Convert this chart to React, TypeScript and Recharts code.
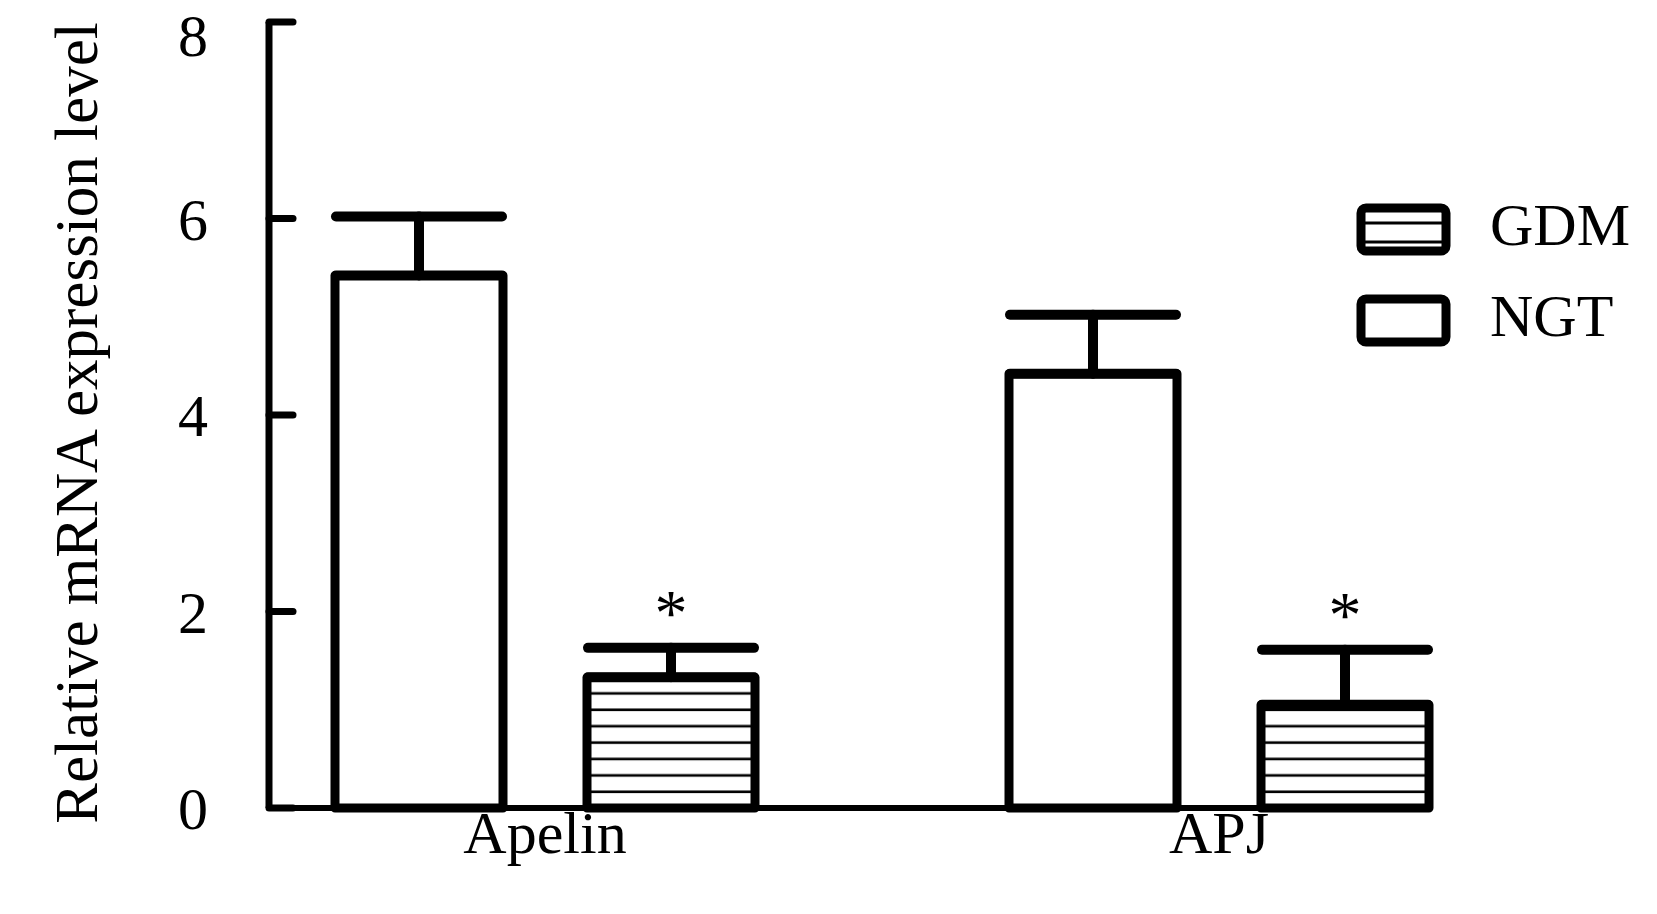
import { BarChart, Bar, XAxis, YAxis, ErrorBar, LabelList, Legend } from "recharts";

const categories = ["Apelin", "APJ"];
const ngtMean = [5.42, 4.42];
const ngtSd = [0.6, 0.6];
const gdmMean = [1.33, 1.05];
const gdmSd = [0.3, 0.56];
const gdmSig = ["*", "*"];
const yTicks = [0, 2, 4, 6, 8];
const legendOrder = ["GDM", "NGT"];

const FONT = "'Liberation Serif', 'Times New Roman', serif";

const data = categories.map((name, i) => ({
  name,
  ngt: ngtMean[i],
  ngtErr: [0, ngtSd[i]],
  gdm: gdmMean[i],
  gdmErr: [0, gdmSd[i]],
  sig: gdmSig[i],
}));

// star sits a little above the top of the error whisker
function StarLabel(props: any) {
  const { x, y, width, height, index } = props;
  const row = data[index];
  if (!row || !row.sig) return null;
  const pxPerUnit = height / row.gdm;
  const top = y - gdmSd[index] * pxPerUnit;
  return (
    <text
      x={x + width / 2}
      y={top - 13}
      textAnchor="middle"
      fontFamily={FONT}
      fontSize={66}
      fill="#000"
    >
      {row.sig}
    </text>
  );
}

function LegendBox(props: any) {
  const items = [...(props.payload || [])].sort(
    (a: any, b: any) => legendOrder.indexOf(a.value) - legendOrder.indexOf(b.value)
  );
  return (
    <svg width={300} height={170} style={{ display: "block", overflow: "visible" }}>
      {items.map((item: any, i: number) => {
        const top = 13 + i * 91;
        const striped = item.value === "GDM";
        return (
          <g key={item.value}>
            <rect
              x={11}
              y={top}
              width={85}
              height={43}
              rx={5}
              fill="#fff"
              stroke="#000"
              strokeWidth={9}
            />
            {striped && (
              <>
                <line x1={15} x2={92} y1={top + 15} y2={top + 15} stroke="#000" strokeWidth={3} />
                <line x1={15} x2={92} y1={top + 34} y2={top + 34} stroke="#000" strokeWidth={3} />
              </>
            )}
            <text
              x={140}
              y={top + 37}
              fontFamily={FONT}
              fontSize={60}
              fill="#000"
            >
              {item.value}
            </text>
          </g>
        );
      })}
    </svg>
  );
}

export default function App() {
  return (
    <div style={{ position: "absolute", left: 0, top: 0, width: 1657, height: 914, background: "#fff" }}>
      <BarChart
        width={1657}
        height={914}
        data={data}
        margin={{ top: 22, right: 225, left: 0, bottom: 0 }}
        barSize={168}
        barGap={84}
      >
        <defs>
          <pattern id="stripes" patternUnits="userSpaceOnUse" width={10} height={16.4}>
            <rect x={0} y={0} width={10} height={16.4} fill="#fff" />
            <rect x={0} y={3.3} width={10} height={2.6} fill="#000" />
          </pattern>
        </defs>
        <XAxis
          dataKey="name"
          height={106}
          padding={{ left: -61, right: -124 }}
          axisLine={{ stroke: "#000", strokeWidth: 6 }}
          tickLine={false}
          tickSize={0}
          tickMargin={2}
          tick={{ fontSize: 60, fill: "#000", fontFamily: FONT }}
        />
        <YAxis
          domain={[0, 8]}
          ticks={yTicks}
          width={269}
          axisLine={{ stroke: "#000", strokeWidth: 7 }}
          tickLine={{ stroke: "#000", strokeWidth: 7, strokeLinecap: "round" }}
          tickSize={-24}
          tickMargin={85}
          tick={{ fontSize: 60, fill: "#000", fontFamily: FONT }}
          label={{
            value: "Relative mRNA expression level",
            angle: -90,
            position: "center",
            dx: -59,
            dy: 8,
            style: { fontSize: 61, fill: "#000", fontFamily: FONT },
          }}
        />
        <Legend
          content={<LegendBox />}
          layout="vertical"
          align="center"
          verticalAlign="middle"
          wrapperStyle={{ position: "absolute", left: 1350, top: 195, width: 300, height: 170 }}
        />
        <Bar
          dataKey="ngt"
          name="NGT"
          fill="#fff"
          stroke="#000"
          strokeWidth={9}
          strokeLinejoin="round"
          isAnimationActive={false}
        >
          <ErrorBar
            dataKey="ngtErr"
            width={83}
            stroke="#000"
            strokeWidth={10}
            strokeLinecap="round"
            direction="y"
          />
        </Bar>
        <Bar
          dataKey="gdm"
          name="GDM"
          fill="url(#stripes)"
          stroke="#000"
          strokeWidth={9}
          strokeLinejoin="round"
          isAnimationActive={false}
        >
          <ErrorBar
            dataKey="gdmErr"
            width={83}
            stroke="#000"
            strokeWidth={10}
            strokeLinecap="round"
            direction="y"
          />
          <LabelList dataKey="sig" content={<StarLabel />} />
        </Bar>
      </BarChart>
    </div>
  );
}
